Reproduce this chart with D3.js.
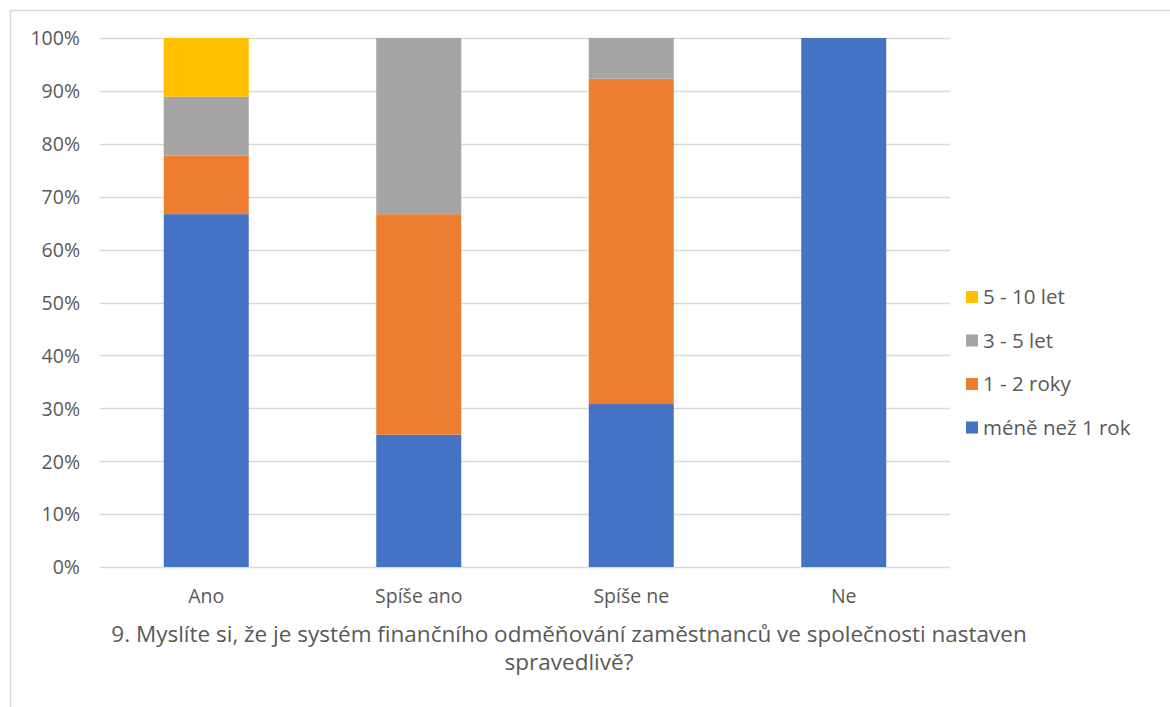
<!DOCTYPE html>
<html>
<head>
<meta charset="utf-8">
<script src="https://cdn.jsdelivr.net/npm/d3@7"></script>
<style>
  body { margin: 0; background: #fff; }
  svg { font-family: "Open Sans", "Liberation Sans", sans-serif; }
  .tick text { fill: #595959; }
</style>
</head>
<body>
<svg width="1170" height="707"></svg>
<script>
// data
var categories = ["Ano", "Spíše ano", "Spíše ne", "Ne"];
var seriesNames = ["méně než 1 rok", "1 - 2 roky", "3 - 5 let", "5 - 10 let"];
var seriesColors = ["#4472C4", "#ED7D31", "#A5A5A5", "#FFC000"];
var lessThan1 = [0.667, 0.25, 0.308, 1.0];
var oneToTwo = [0.111, 0.417, 0.615, 0];
var threeToFive = [0.111, 0.333, 0.077, 0];
var fiveToTen = [0.111, 0, 0, 0];
var titleLines = ["9. Myslíte si, že je systém finančního odměňování zaměstnanců ve společnosti nastaven", "spravedlivě?"];

var svg = d3.select("svg"),
  width = +svg.attr("width"),
  height = +svg.attr("height");

var margin = {left: 100, right: 950, top: 38, bottom: 567};

// chart frame
svg.append("rect")
  .attr("x", 10.5).attr("y", 10.5)
  .attr("width", 1200).attr("height", 800)
  .attr("fill", "none")
  .attr("stroke", "#d9d9d9")
  .attr("stroke-width", 1.5);

var table = categories.map(function (c, i) {
  return {cat: c, s0: lessThan1[i], s1: oneToTwo[i], s2: threeToFive[i], s3: fiveToTen[i]};
});
var stack = d3.stack().keys(["s0", "s1", "s2", "s3"]);
var layers = stack(table);

var x = d3.scaleBand().domain(categories)
  .range([margin.left, margin.right])
  .paddingInner(0.6).paddingOuter(0.3);

var y = d3.scaleLinear().domain([0, 1]).range([margin.bottom, margin.top]);

// gridlines
var ticks = d3.range(0, 1.0001, 0.1);
svg.append("g")
  .selectAll("line")
  .data(ticks)
  .enter().append("line")
  .attr("x1", margin.left).attr("x2", margin.right)
  .attr("y1", function (d) { return Math.round(y(d)) + 0.5; })
  .attr("y2", function (d) { return Math.round(y(d)) + 0.5; })
  .attr("stroke", "#d9d9d9")
  .attr("stroke-width", 1.3);

// y axis labels
var yAxis = svg.append("g")
  .attr("transform", "translate(" + (margin.left - 20) + ",0)")
  .call(d3.axisLeft(y).tickValues(ticks).tickFormat(d3.format(".0%")).tickSize(0).tickPadding(0));
yAxis.select(".domain").remove();
yAxis.selectAll("text").attr("font-size", 19.5).attr("dy", "0.35em")
  .attr("font-family", "\"Open Sans\", sans-serif");

// bars
svg.append("g")
  .selectAll("g")
  .data(layers)
  .enter().append("g")
  .attr("fill", function (d, i) { return seriesColors[i]; })
  .selectAll("rect")
  .data(function (d) { return d; })
  .enter().append("rect")
  .attr("x", function (d) { return x(d.data.cat); })
  .attr("width", x.bandwidth())
  .attr("y", function (d) { return y(d[1]); })
  .attr("height", function (d) { return y(d[0]) - y(d[1]); });

// x axis labels
var xAxis = svg.append("g")
  .attr("transform", "translate(0," + margin.bottom + ")")
  .call(d3.axisBottom(x).tickSize(0).tickPadding(22));
xAxis.select(".domain").remove();
xAxis.selectAll("text").attr("font-size", 19.5).attr("dy", "0.71em")
  .attr("font-family", "\"Open Sans\", sans-serif");

// title at bottom
svg.append("g")
  .selectAll("text")
  .data(titleLines)
  .enter().append("text")
  .attr("x", 569)
  .attr("y", function (d, i) { return 642 + i * 28; })
  .attr("text-anchor", "middle")
  .attr("font-size", 22.5)
  .attr("fill", "#595959")
  .text(function (d) { return d; });

// legend (reversed, top to bottom)
var legend = svg.append("g")
  .selectAll("g")
  .data(seriesNames.slice().reverse())
  .enter().append("g")
  .attr("transform", function (d, i) { return "translate(966," + (297 + i * 43.5) + ")"; });
legend.append("rect")
  .attr("x", 0).attr("y", -6)
  .attr("width", 12).attr("height", 12)
  .attr("fill", function (d, i) { return seriesColors[seriesColors.length - 1 - i]; });
legend.append("text")
  .attr("x", 17).attr("y", 0).attr("dy", "0.35em")
  .attr("font-size", 20.5)
  .attr("fill", "#595959")
  .text(function (d) { return d; });
</script>
</body>
</html>
